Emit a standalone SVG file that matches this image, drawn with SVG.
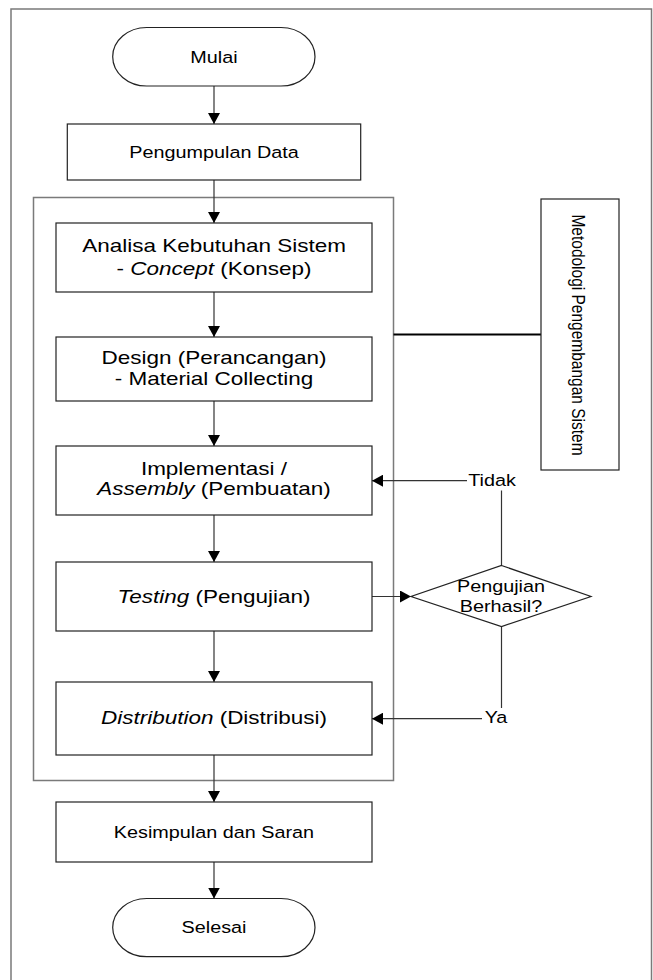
<svg xmlns="http://www.w3.org/2000/svg" width="653" height="980" viewBox="0 0 653 980">
<defs>
<style>
.frame{fill:none;stroke:#7a7a7a;stroke-width:1.5}
.box{fill:#fff;stroke:#222;stroke-width:1.2}
.ln{fill:none;stroke:#333;stroke-width:1.2}
.t{font-family:"Liberation Sans",Arial,sans-serif;fill:#000;text-anchor:middle}
.s{font-size:16.5px}
.b{font-size:18.6px}
.i{font-style:italic}
</style>
<marker id="ah" markerUnits="userSpaceOnUse" markerWidth="12" markerHeight="12" refX="11" refY="6" orient="auto">
<path d="M0,0 L11,6 L0,12 Z" fill="#000"/>
</marker>
</defs>
<rect width="653" height="980" fill="#fff"/>
<rect id="outer-frame" class="frame" x="11" y="9" width="640.5" height="1000"/>
<rect id="container" class="frame" x="33.5" y="197.5" width="360" height="583"/>

<g id="connectors">
<line class="ln" x1="214" y1="86" x2="214" y2="124" marker-end="url(#ah)"/>
<line class="ln" x1="214" y1="180" x2="214" y2="223" marker-end="url(#ah)"/>
<line class="ln" x1="214" y1="292" x2="214" y2="337" marker-end="url(#ah)"/>
<line class="ln" x1="214" y1="401" x2="214" y2="446" marker-end="url(#ah)"/>
<line class="ln" x1="214" y1="515" x2="214" y2="562" marker-end="url(#ah)"/>
<line class="ln" x1="214" y1="631" x2="214" y2="682" marker-end="url(#ah)"/>
<line class="ln" x1="214" y1="755" x2="214" y2="802" marker-end="url(#ah)"/>
<line class="ln" x1="214" y1="862" x2="214" y2="898.5" marker-end="url(#ah)"/>
<line class="ln" x1="372" y1="596.5" x2="411" y2="596.5" marker-end="url(#ah)"/>
<line class="ln" x1="501.5" y1="565.5" x2="501.5" y2="490.5"/>
<line class="ln" x1="467" y1="480.7" x2="372" y2="480.7" marker-end="url(#ah)"/>
<line class="ln" x1="501.5" y1="626.5" x2="501.5" y2="708"/>
<line class="ln" x1="482" y1="718.7" x2="372" y2="718.7" marker-end="url(#ah)"/>
<line fill="none" stroke="#000" stroke-width="1.8" x1="393.5" y1="334.5" x2="541" y2="334.5"/>
<text class="t s" transform="translate(492,485.7) scale(1.2,1)">Tidak</text>
<text class="t s" transform="translate(496,723.3) scale(1.2,1)">Ya</text>
</g>

<g id="mulai">
<rect class="box" x="112.7" y="27.5" width="202.3" height="58.5" rx="34" ry="29.25"/>
<text class="t s" transform="translate(214,63) scale(1.2,1)">Mulai</text>
</g>

<g id="pengumpulan">
<rect class="box" x="67.3" y="124" width="293.4" height="56"/>
<text class="t s" transform="translate(214,158) scale(1.2,1)">Pengumpulan Data</text>
</g>

<g id="analisa">
<rect class="box" x="56" y="223" width="316" height="69"/>
<text class="t b" transform="translate(214,252.3) scale(1.21,1)">Analisa Kebutuhan Sistem</text>
<text class="t b" transform="translate(214,274.5) scale(1.21,1)">- <tspan class="i">Concept</tspan> (Konsep)</text>
</g>

<g id="design">
<rect class="box" x="56" y="337" width="316" height="64"/>
<text class="t b" transform="translate(214,364.3) scale(1.21,1)">Design (Perancangan)</text>
<text class="t b" transform="translate(214,384.5) scale(1.21,1)">- Material Collecting</text>
</g>

<g id="implementasi">
<rect class="box" x="56" y="446" width="316" height="69"/>
<text class="t b" transform="translate(214,475) scale(1.21,1)">Implementasi /</text>
<text class="t b" transform="translate(214,495) scale(1.21,1)"><tspan class="i">Assembly</tspan> (Pembuatan)</text>
</g>

<g id="testing">
<rect class="box" x="56" y="562" width="316" height="69"/>
<text class="t b" transform="translate(214,602.7) scale(1.21,1)"><tspan class="i">Testing</tspan> (Pengujian)</text>
</g>

<g id="distribution">
<rect class="box" x="56" y="682" width="316" height="73"/>
<text class="t b" transform="translate(214,724) scale(1.21,1)"><tspan class="i">Distribution</tspan> (Distribusi)</text>
</g>

<g id="kesimpulan">
<rect class="box" x="56" y="802" width="316" height="60"/>
<text class="t s" transform="translate(214,838) scale(1.2,1)">Kesimpulan dan Saran</text>
</g>

<g id="selesai">
<rect class="box" x="112.7" y="898.5" width="202.3" height="58.2" rx="34" ry="29.1"/>
<text class="t s" transform="translate(214,933) scale(1.2,1)">Selesai</text>
</g>

<g id="keputusan">
<polygon class="box" points="501.5,565.5 591,596.5 501.5,626.5 411,596.5"/>
<text class="t s" transform="translate(501,591.5) scale(1.2,1)">Pengujian</text>
<text class="t s" transform="translate(501,611.5) scale(1.2,1)">Berhasil?</text>
</g>

<g id="metodologi">
<rect class="box" x="541" y="199" width="78" height="271"/>
<text class="t" font-size="15.5px" transform="translate(579,335) scale(1.2,1) rotate(90) translate(0,5.5)">Metodologi Pengembangan Sistem</text>
</g>
</svg>
